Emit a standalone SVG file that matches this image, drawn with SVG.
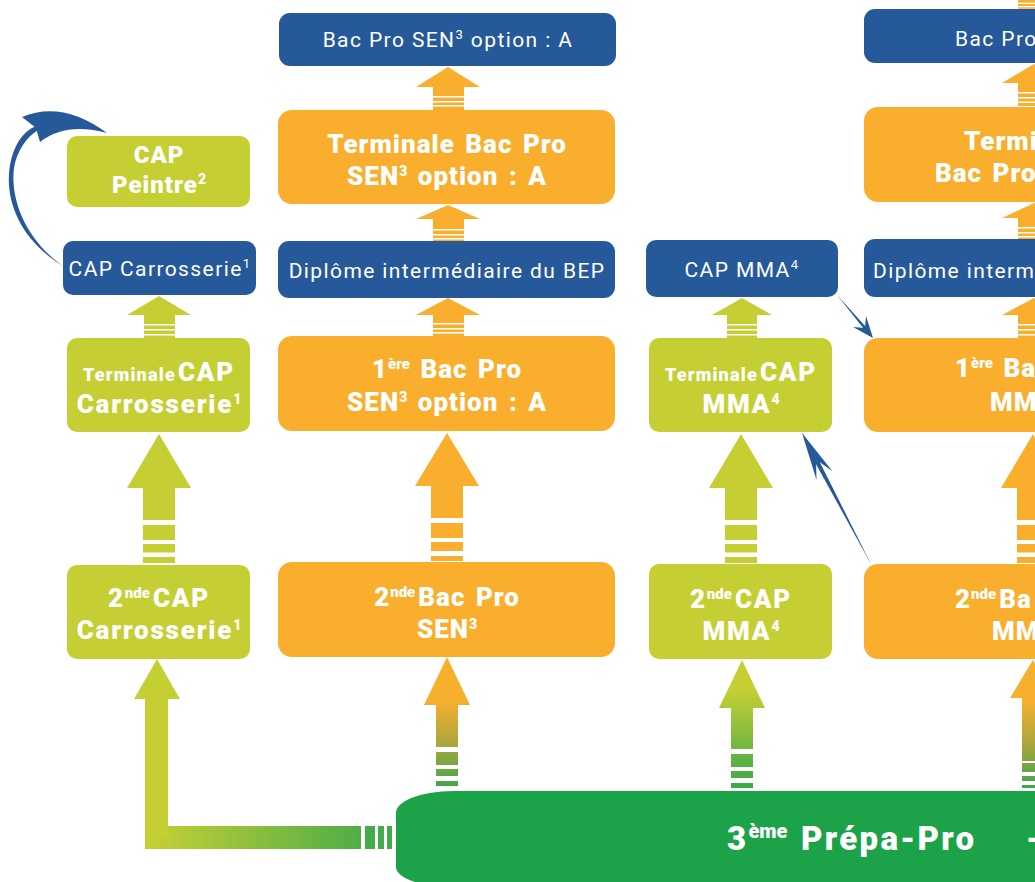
<svg xmlns="http://www.w3.org/2000/svg" width="1035" height="882" viewBox="0 0 1035 882">
<style>
.or{fill:#F9AF2D}
.lm{fill:#C5CF34}
.bl{fill:#26599A}
.gr{fill:#1CA34A}
.tb{font-family:Roboto,"Liberation Sans",sans-serif;font-weight:900;fill:#fff;font-size:26px;letter-spacing:1px;word-spacing:3px;text-anchor:middle}
.tg{font-size:26px;letter-spacing:1.8px}
.tr{font-family:Roboto,"Liberation Sans",sans-serif;font-weight:normal;fill:#fff;font-size:21px;letter-spacing:1.4px;text-anchor:middle}
.sp{font-size:15px;letter-spacing:0}
.sd{font-size:14px;letter-spacing:0}
.sm{font-size:18px;letter-spacing:1.2px}
.st{text-anchor:start}
.ln{fill:#26599A}
</style>
<defs>
<linearGradient id="gLime" gradientUnits="userSpaceOnUse" x1="0" y1="690" x2="0" y2="790">
<stop offset="0" stop-color="#C5CF34"/><stop offset="1" stop-color="#37A64A"/>
</linearGradient>
<linearGradient id="gOr" gradientUnits="userSpaceOnUse" x1="0" y1="700" x2="0" y2="790">
<stop offset="0" stop-color="#F7B02E"/><stop offset="0.5" stop-color="#A9A63D"/><stop offset="1" stop-color="#37A64A"/>
</linearGradient>
<linearGradient id="gH" gradientUnits="userSpaceOnUse" x1="150" y1="0" x2="396" y2="0">
<stop offset="0" stop-color="#C5CF34"/><stop offset="1" stop-color="#3CA84A"/>
</linearGradient>
</defs>

<!-- connectors -->
<g id="connectors">
  <!-- column 1 -->
  <g class="lm">
    <polygon points="127,315 159,296 191,315"/>
    <rect x="144" y="314" width="31" height="10"/>
    <rect x="144" y="325.5" width="31" height="3.5"/>
    <rect x="144" y="330.5" width="31" height="3.5"/>
    <rect x="144" y="335.5" width="31" height="2.5"/>
    <polygon points="127,488 159,434 191,488"/>
    <rect x="143" y="487" width="32" height="33"/>
    <rect x="143" y="525" width="32" height="15"/>
    <rect x="143" y="544" width="32" height="8.5"/>
    <rect x="143" y="557" width="32" height="6"/>
  </g>
  <!-- column 2 -->
  <g class="or">
    <polygon points="416,87 448,67 480,87"/>
    <rect x="433" y="86" width="31" height="10"/>
    <rect x="433" y="97.5" width="31" height="3.5"/>
    <rect x="433" y="102.5" width="31" height="2.5"/>
    <rect x="433" y="106.5" width="31" height="3.5"/>
    <polygon points="416,219 448,205 480,219"/>
    <rect x="433" y="218" width="31" height="11"/>
    <rect x="433" y="230.5" width="31" height="3.5"/>
    <rect x="433" y="235.5" width="31" height="2.5"/>
    <rect x="433" y="239.5" width="31" height="1.5"/>
    <polygon points="416,315 448,298 480,315"/>
    <rect x="433" y="314" width="31" height="9"/>
    <rect x="433" y="324.5" width="31" height="3.5"/>
    <rect x="433" y="329.5" width="31" height="2.5"/>
    <rect x="433" y="333.5" width="31" height="2.5"/>
    <polygon points="415,486 447,433 479,486"/>
    <rect x="431" y="485" width="32" height="33"/>
    <rect x="431" y="523" width="32" height="15"/>
    <rect x="431" y="542" width="32" height="9"/>
    <rect x="431" y="556" width="32" height="5"/>
  </g>
  <!-- column 3 -->
  <g class="lm">
    <polygon points="712,315 742,298 772,315"/>
    <rect x="727" y="314" width="30" height="10"/>
    <rect x="727" y="325.5" width="30" height="3.5"/>
    <rect x="727" y="330.5" width="30" height="3.5"/>
    <rect x="727" y="335.5" width="30" height="2.5"/>
    <polygon points="709,488 741,434 773,488"/>
    <rect x="725" y="487" width="32" height="33"/>
    <rect x="725" y="525" width="32" height="15"/>
    <rect x="725" y="544" width="32" height="8.5"/>
    <rect x="725" y="557" width="32" height="6"/>
  </g>
  <!-- column 4 -->
  <g class="or">
    <rect x="1018" y="0" width="31" height="2.7"/>
    <rect x="1018" y="4" width="31" height="2"/>
    <rect x="1018" y="7.3" width="31" height="1.5"/>
    <polygon points="1002,83 1034,64 1066,83"/>
    <rect x="1018" y="82" width="31" height="10"/>
    <rect x="1018" y="93.5" width="31" height="3.5"/>
    <rect x="1018" y="98.5" width="31" height="3"/>
    <rect x="1018" y="103" width="31" height="3"/>
    <polygon points="1002,218 1034,203 1066,218"/>
    <rect x="1018" y="217" width="31" height="10"/>
    <rect x="1018" y="228.5" width="31" height="3.5"/>
    <rect x="1018" y="233.5" width="31" height="2.5"/>
    <rect x="1018" y="237.5" width="31" height="1.5"/>
    <polygon points="1002,315 1034,298 1066,315"/>
    <rect x="1018" y="314" width="31" height="10"/>
    <rect x="1018" y="325.5" width="31" height="3.5"/>
    <rect x="1018" y="330.5" width="31" height="3.5"/>
    <rect x="1018" y="335.5" width="31" height="2.5"/>
    <polygon points="1001,488 1033,434 1065,488"/>
    <rect x="1017" y="487" width="32" height="33"/>
    <rect x="1017" y="525" width="32" height="15"/>
    <rect x="1017" y="544" width="32" height="8.5"/>
    <rect x="1017" y="557" width="32" height="6"/>
  </g>
  <!-- bottom gradient arrows -->
  <g fill="url(#gOr)">
    <polygon points="424,705 447,657 470,705"/>
    <rect x="436" y="704" width="22" height="43"/>
    <rect x="436" y="752" width="22" height="13"/>
    <rect x="436" y="769" width="22" height="7"/>
    <rect x="436" y="781" width="22" height="5"/>
    <polygon points="1010,698 1033,660 1056,698"/>
    <rect x="1022" y="697" width="22" height="64"/>
    <rect x="1022" y="763" width="22" height="9"/>
    <rect x="1022" y="776" width="22" height="5"/>
    <rect x="1022" y="785" width="22" height="3"/>
  </g>
  <g fill="url(#gLime)">
    <polygon points="719,708 742,660 765,708"/>
    <rect x="731" y="707" width="22" height="42"/>
    <rect x="731" y="754" width="22" height="13"/>
    <rect x="731" y="771" width="22" height="7"/>
    <rect x="731" y="783" width="22" height="5"/>
  </g>
  <!-- L arrow -->
  <rect x="145" y="826" width="216" height="23" fill="url(#gH)"/>
  <rect x="145" y="698" width="23" height="140" class="lm"/>
  <polygon points="134,699 157,659 180,699" class="lm"/>
  <g fill="#44AA4B">
    <rect x="365" y="826" width="10" height="23"/>
    <rect x="378" y="826" width="6" height="23"/>
    <rect x="387" y="826" width="5" height="23"/>
  </g>
  <!-- blue curved arrow -->
  <path class="ln" d="M63,266 C20,240 4,200 10,165 C14,145 22,132 36,126 L38,130 C27,137 17,150 14,168 C10,200 26,240 63,266 Z"/>
  <path class="ln" d="M107,133 Q62,100 22,117 L36,128 L40,142 Q66,122 107,133 Z"/>
  <!-- blue line CAP MMA -> 1ere Bac Pro -->
  <polygon class="ln" points="837,295 866,327 864,329"/>
  <path class="ln" d="M873,338 L853,327 L865,328 L866,316 Z"/>
  <!-- blue line 2nde Bac Pro -> Terminale CAP MMA -->
  <polygon class="ln" points="872,566 818,458.6 814,460.4"/>
  <path class="ln" d="M802,433 L816.5,480 L816,459.5 L832.5,471.3 Z"/>
</g>

<!-- column 1 nodes -->
<g id="cap-peintre">
  <rect x="67" y="136" width="183" height="71" rx="10" class="lm"/>
  <text class="tb" x="159" y="163" style="font-size:24px">CAP</text>
  <text class="tb" x="159" y="193" style="font-size:24px">Peintre<tspan class="sd" dy="-9">2</tspan></text>
</g>
<g id="cap-carrosserie">
  <rect x="63" y="241" width="193" height="54" rx="10" class="bl"/>
  <text class="tr" x="160" y="276">CAP Carrosserie<tspan font-size="13" dy="-8">1</tspan></text>
</g>
<g id="terminale-cap-carrosserie">
  <rect x="67" y="338" width="183" height="94" rx="10" class="lm"/>
  <text class="tb tg" x="159" y="381"><tspan class="sm">Terminale</tspan><tspan dx="2">CAP</tspan></text>
  <text class="tb tg" x="159" y="413">Carrosserie<tspan class="sd" dy="-9">1</tspan></text>
</g>
<g id="seconde-cap-carrosserie">
  <rect x="67" y="565" width="183" height="94" rx="10" class="lm"/>
  <text class="tb tg" x="159" y="607">2<tspan class="sp" dy="-9">nde</tspan><tspan dy="9" dx="3">CAP</tspan></text>
  <text class="tb tg" x="159" y="639">Carrosserie<tspan class="sd" dy="-9">1</tspan></text>
</g>

<!-- column 2 nodes -->
<g id="bac-pro-sen">
  <rect x="279" y="13" width="337" height="53" rx="11" class="bl"/>
  <text class="tr" x="448" y="47">Bac Pro SEN<tspan font-size="13" dy="-8">3</tspan><tspan dy="8"> option : A</tspan></text>
</g>
<g id="terminale-bac-pro-sen">
  <rect x="278" y="110" width="337" height="94" rx="14" class="or"/>
  <text class="tb" x="447" y="153">Terminale Bac Pro</text>
  <text class="tb" x="447" y="185">SEN<tspan class="sd" dy="-9">3</tspan><tspan dy="9"> option : A</tspan></text>
</g>
<g id="bep-sen">
  <rect x="278" y="241" width="337" height="57" rx="11" class="bl"/>
  <text class="tr" x="447" y="278">Diplôme intermédiaire du BEP</text>
</g>
<g id="premiere-bac-pro-sen">
  <rect x="278" y="336" width="337" height="95" rx="14" class="or"/>
  <text class="tb" x="447" y="378">1<tspan class="sp" dy="-9">ère</tspan><tspan dy="9"> Bac Pro</tspan></text>
  <text class="tb" x="447" y="411">SEN<tspan class="sd" dy="-9">3</tspan><tspan dy="9"> option : A</tspan></text>
</g>
<g id="seconde-bac-pro-sen">
  <rect x="278" y="562" width="337" height="95" rx="14" class="or"/>
  <text class="tb" x="447" y="606">2<tspan class="sp" dy="-9">nde</tspan><tspan dy="9" dx="3">Bac Pro</tspan></text>
  <text class="tb" x="447" y="638">SEN<tspan class="sd" dy="-9">3</tspan></text>
</g>

<!-- column 3 nodes -->
<g id="cap-mma">
  <rect x="646" y="240" width="192" height="57" rx="10" class="bl"/>
  <text class="tr" x="742" y="277">CAP MMA<tspan font-size="13" dy="-8">4</tspan></text>
</g>
<g id="terminale-cap-mma">
  <rect x="649" y="338" width="183" height="94" rx="10" class="lm"/>
  <text class="tb tg" x="741" y="381"><tspan class="sm">Terminale</tspan><tspan dx="2">CAP</tspan></text>
  <text class="tb tg" x="741" y="413">MMA<tspan class="sd" dy="-9">4</tspan></text>
</g>
<g id="seconde-cap-mma">
  <rect x="649" y="564" width="183" height="95" rx="10" class="lm"/>
  <text class="tb tg" x="741" y="608">2<tspan class="sp" dy="-9">nde</tspan><tspan dy="9" dx="3">CAP</tspan></text>
  <text class="tb tg" x="741" y="640">MMA<tspan class="sd" dy="-9">4</tspan></text>
</g>

<!-- column 4 nodes -->
<g id="bac-pro-mma">
  <rect x="864" y="9" width="337" height="54" rx="11" class="bl"/>
  <text class="tr st" x="955" y="46">Bac Pro</text>
</g>
<g id="terminale-bac-pro-mma">
  <rect x="864" y="107" width="337" height="95" rx="14" class="or"/>
  <text class="tb st" x="964" y="150">Termi</text>
  <text class="tb st" x="935" y="182">Bac Pro</text>
</g>
<g id="bep-mma">
  <rect x="864" y="239" width="337" height="58" rx="11" class="bl"/>
  <text class="tr st" x="873" y="278">Diplôme interm</text>
</g>
<g id="premiere-bac-pro-mma">
  <rect x="864" y="338" width="337" height="94" rx="14" class="or"/>
  <text class="tb st" x="955" y="377">1<tspan class="sp" dy="-9">ère</tspan><tspan dy="9"> Ba</tspan></text>
  <text class="tb st" x="990" y="411">MM</text>
</g>
<g id="seconde-bac-pro-mma">
  <rect x="864" y="564" width="337" height="95" rx="14" class="or"/>
  <text class="tb st" x="955" y="608">2<tspan class="sp" dy="-9">nde</tspan><tspan dy="9" dx="3">Ba</tspan></text>
  <text class="tb st" x="992" y="640">MM</text>
</g>

<!-- bottom node -->
<g id="troisieme-prepa-pro">
  <path class="gr" d="M1040,791 L453,791 A57,22 0 0 0 396,813 L396,867 A57,20 0 0 0 453,887 L1040,887 Z"/>
  <text class="tb st" x="727" y="850" style="font-size:33px;letter-spacing:2.3px">3<tspan style="font-size:20px;letter-spacing:0" dy="-12">ème</tspan><tspan dy="12"> Prépa-Pro</tspan></text>
  <text class="tb st" x="1026" y="850" style="font-size:33px">-</text>
</g>
</svg>
